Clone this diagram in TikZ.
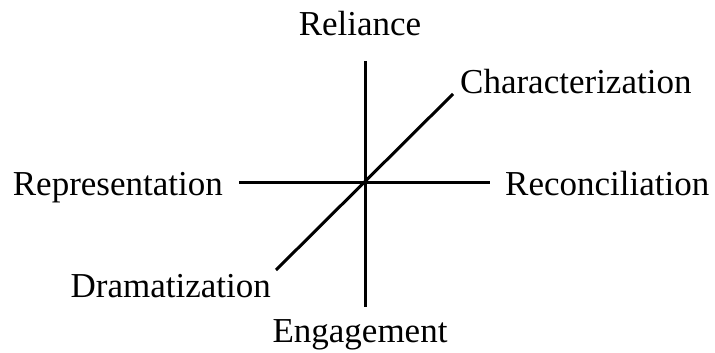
\documentclass[tikz,border=0pt]{standalone}
\usepackage{fontspec}
\setmainfont{Liberation Serif}
\begin{document}
\begin{tikzpicture}[x=1pt,y=-1pt,
  axis/.style={line width=3pt,black},
  lbl/.style={inner sep=0pt,font=\fontsize{35}{42}\selectfont}]
\useasboundingbox (0,0) rectangle (715,353);
\coordinate (vt) at (365,61);
\coordinate (vb) at (365,307);
\coordinate (hl) at (239,182);
\coordinate (hr) at (490,182);
\coordinate (dt) at (453,94);
\coordinate (db) at (276,270);
\draw[axis] (vt) -- (vb);
\draw[axis] (hl) -- (hr);
\draw[axis] (db) -- (dt);
\node[lbl,anchor=base] (rel) at (360,36) {Reliance};
\node[lbl,anchor=base west] (cha) at (460,93) {Characterization};
\node[lbl,anchor=base east] (rep) at (223,195) {Representation};
\node[lbl,anchor=base west] (rec) at (505,195) {Reconciliation};
\node[lbl,anchor=base east] (dra) at (271,297) {Dramatization};
\node[lbl,anchor=base] (eng) at (360,342) {Engagement};
\end{tikzpicture}
\end{document}
